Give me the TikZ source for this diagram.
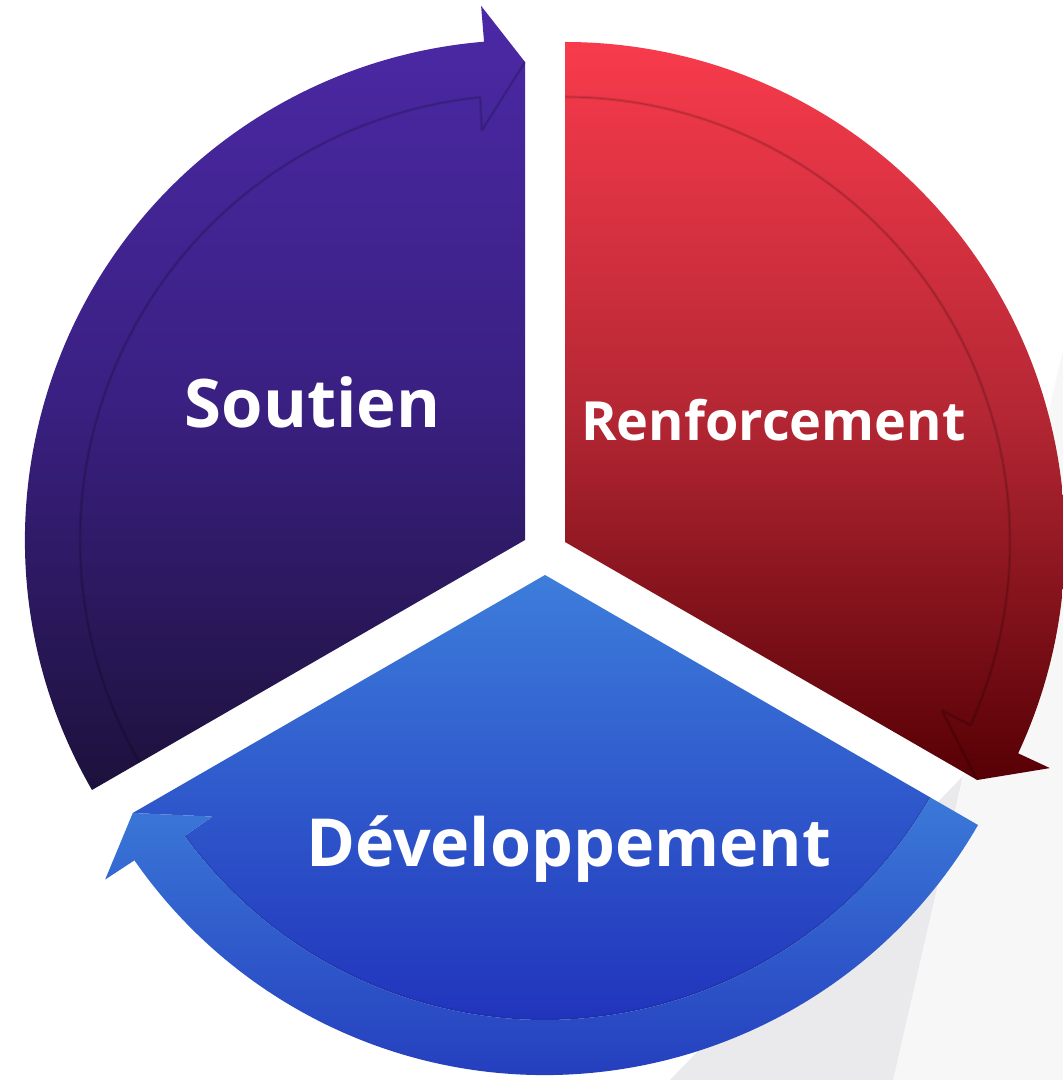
\documentclass[tikz,border=0pt]{standalone}
\usepackage{fontspec}
\setmainfont{Open Sans}
\usetikzlibrary{calc}
\definecolor{pTop}{HTML}{4C29A6}
\definecolor{pMid}{HTML}{3A2082}
\definecolor{pBot}{HTML}{1D113C}
\definecolor{rTop}{HTML}{F83B4C}
\definecolor{rMid}{HTML}{B52734}
\definecolor{rBot}{HTML}{560005}
\definecolor{bTop}{HTML}{3D7DDB}
\definecolor{bBot}{HTML}{2032BB}
\definecolor{ringTop}{HTML}{3B79D8}
\definecolor{ringBot}{HTML}{1F30B8}
\definecolor{gDark}{HTML}{EAEAEC}
\definecolor{gLight}{HTML}{F7F7F8}
\begin{document}
\begin{tikzpicture}[x=1pt,y=1pt,
  lbl/.style={text=white, font=\bfseries, inner sep=0pt, anchor=base},
  edgesoft/.style={draw=black, draw opacity=.10, line width=3pt, line join=round},
  edgeshade/.style={draw=black, draw opacity=.14, line width=0.9pt, line join=round}]
\useasboundingbox (0,0) rectangle (1063,1080);
\fill[white] (0,0) rectangle (1063,1080);
% floor reflections
\fill[gLight] (1063,730) -- (893,0) -- (1063,0) -- cycle;
\fill[gDark] (963,304) -- (893,0) -- (670,0) -- cycle;
% centres
\coordinate (cp) at (525,540);
\coordinate (cr) at (565,538);
\coordinate (cb) at (545,505);
% ---- purple segment (Soutien)
\shade[top color=pTop, bottom color=pBot, middle color=pMid]
  (cp) -- ($(cp)+(210:500pt)$) arc[start angle=210, end angle=94.7, radius=500pt]
  -- ($(cp)+(94.7:536pt)$) -- ($(cp)+(90:478pt)$) -- cycle;
\foreach \s in {edgesoft,edgeshade}
  \draw[\s] ($(cp)+(210:445pt)$) arc[start angle=210, end angle=95.8, radius=445pt]
    -- ($(cp)+(96:412pt)$) -- ($(cp)+(90:478pt)$);
% ---- red segment (Renforcement)
\shade[top color=rTop, bottom color=rBot, middle color=rMid]
  (cr) -- ($(cr)+(90:500pt)$) arc[start angle=90, end angle=-25, radius=500pt]
  -- ($(cr)+(-25:535pt)$) -- ($(cr)+(-30:476pt)$) -- cycle;
\foreach \s in {edgesoft,edgeshade}
  \draw[\s] ($(cr)+(90:445pt)$) arc[start angle=90, end angle=-24.3, radius=445pt]
    -- ($(cr)+(-24.1:413pt)$) -- ($(cr)+(-30:476pt)$);
% ---- blue segment (Developpement)
\shade[top color=bTop, bottom color=bBot]
  (cb) -- ($(cb)+(210:476pt)$) -- ($(cb)+(216:411pt)$) -- ($(cb)+(215.9:445pt)$)
  arc[start angle=215.9, end angle=330, radius=445pt] -- cycle;
\draw[edgesoft, draw opacity=.08] ($(cb)+(215.9:445pt)$) arc[start angle=215.9, end angle=330, radius=445pt];
\shade[top color=ringTop, bottom color=ringBot]
  ($(cb)+(330:500pt)$) arc[start angle=330, end angle=214.8, radius=500pt]
  -- ($(cb)+(214.7:535pt)$) -- ($(cb)+(210:476pt)$) -- ($(cb)+(216:411pt)$)
  -- ($(cb)+(215.9:445pt)$) arc[start angle=215.9, end angle=330, radius=445pt] -- cycle;
% ---- labels
\node[lbl, font=\bfseries\fontsize{67}{67}\selectfont] (soutien) at (312.5,652) {Soutien};
\node[lbl, font=\bfseries\fontsize{54}{54}\selectfont] (renf) at (773.5,639) {Renforcement};
\node[lbl, font=\bfseries\fontsize{66.3}{66.3}\selectfont] (dev) at (568.5,213) {Développement};
\end{tikzpicture}
\end{document}
